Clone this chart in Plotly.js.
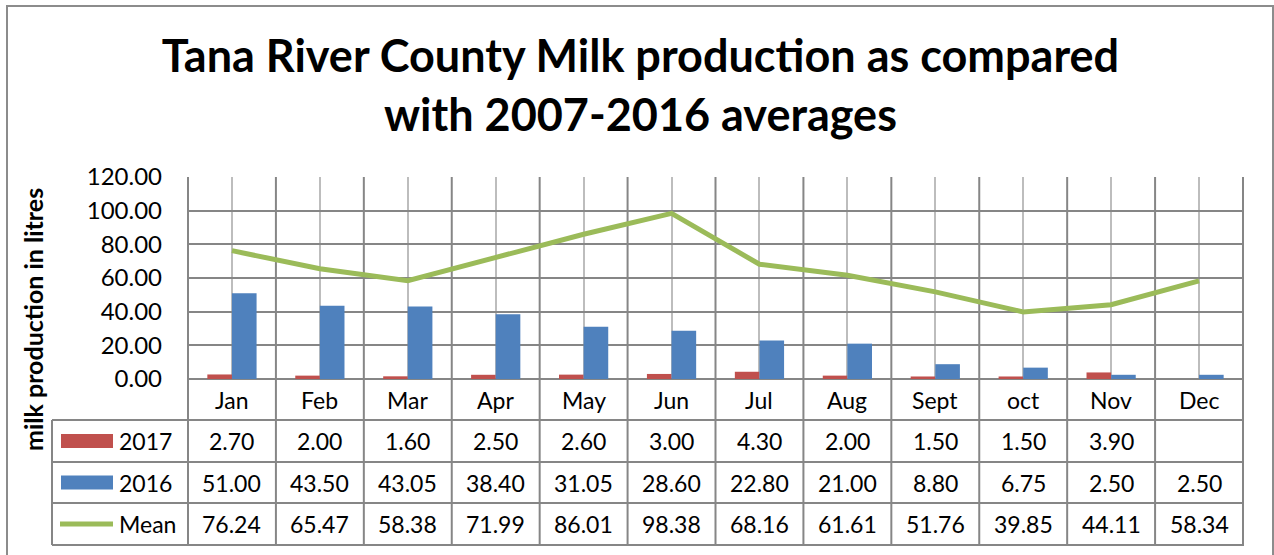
<!DOCTYPE html>
<html>
<head>
<meta charset="utf-8">
<script src="https://cdn.plot.ly/plotly-3.0.1.min.js"></script>
<style>html,body{margin:0;padding:0;background:#fff;}#chart{width:1274px;height:555px;}</style>
</head>
<body>
<div id="chart"></div>
<script>
// ---- data ----
var months = ["Jan","Feb","Mar","Apr","May","Jun","Jul","Aug","Sept","oct","Nov","Dec"];
var seriesNames = ["2017","2016","Mean"];
var values2017 = [2.70, 2.00, 1.60, 2.50, 2.60, 3.00, 4.30, 2.00, 1.50, 1.50, 3.90, null];
var values2016 = [51.00, 43.50, 43.05, 38.40, 31.05, 28.60, 22.80, 21.00, 8.80, 6.75, 2.50, 2.50];
var valuesMean = [76.24, 65.47, 58.38, 71.99, 86.01, 98.38, 68.16, 61.61, 51.76, 39.85, 44.11, 58.34];
var yTicks = [0, 20, 40, 60, 80, 100, 120];

// ---- styling / layout helpers ----
var W = 1274, H = 555;
var plotL = 187, plotR = 1244, plotT = 177, plotB = 379;
var colors = ["#C0504D", "#4F81BD", "#9BBB59"];
var FONT = "Lato, 'Open Sans', sans-serif";
function px2x(px){ return (px - plotL) / (plotR - plotL); }
function px2y(py){ return (plotB - py) / (plotB - plotT); }

var rowLines = [420, 462, 503, 545];   // table horizontal lines (pixels)
var tableLeft = 52;
var gridDark = "#868686", gridLight = "#BDBDBD";
var TXT = 23;

var traces = [
  {type:"bar", name:seriesNames[0], x:months, y:values2017, marker:{color:colors[0]}, hoverinfo:"x+y+name"},
  {type:"bar", name:seriesNames[1], x:months, y:values2016, marker:{color:colors[1]}, hoverinfo:"x+y+name"},
  {type:"scatter", mode:"lines", name:seriesNames[2], x:months, y:valuesMean,
   line:{color:colors[2], width:5}, hoverinfo:"x+y+name"}
];

var shapes = [];
var annotations = [];

// outer chart border
shapes.push({type:"rect", xref:"paper", yref:"paper", x0:px2x(7), x1:px2x(1273), y0:px2y(560), y1:px2y(6),
  line:{color:"#8c8c8c", width:2}, fillcolor:"rgba(0,0,0,0)", layer:"below"});

// category boundary lines through plot and table
for (var i = 0; i <= months.length; i++) {
  shapes.push({type:"line", xref:"x", yref:"paper", x0:i-0.5, x1:i-0.5, y0:px2y(rowLines[rowLines.length-1]), y1:1,
    line:{color:gridDark, width:2}, layer:"below"});
}
// table horizontal lines
rowLines.forEach(function(py){
  shapes.push({type:"line", xref:"paper", yref:"paper", x0:px2x(tableLeft), x1:1, y0:px2y(py), y1:px2y(py),
    line:{color:gridDark, width:2}});
});
// table left edge
shapes.push({type:"line", xref:"paper", yref:"paper", x0:px2x(tableLeft), x1:px2x(tableLeft),
  y0:px2y(rowLines[0]), y1:px2y(rowLines[rowLines.length-1]), line:{color:gridDark, width:2}});

// month labels in header row
months.forEach(function(m){
  annotations.push({xref:"x", yref:"paper", x:m, y:px2y((plotB+rowLines[0])/2), text:m, showarrow:false,
    font:{family:FONT, size:TXT, color:"#000"}, yanchor:"middle"});
});

// table rows
var rowData = [values2017, values2016, valuesMean];
rowData.forEach(function(arr, r){
  var yc = px2y((rowLines[r] + rowLines[r+1]) / 2);
  arr.forEach(function(v, j){
    if (v === null) return;
    annotations.push({xref:"x", yref:"paper", x:months[j], y:yc, text:v.toFixed(2), showarrow:false,
      font:{family:FONT, size:TXT, color:"#000"}, yanchor:"middle"});
  });
  // legend key
  if (r < 2) {
    shapes.push({type:"rect", xref:"paper", yref:"paper", x0:px2x(61), x1:px2x(113),
      y0:yc - 7/(plotB-plotT), y1:yc + 7/(plotB-plotT), fillcolor:colors[r], line:{width:0}});
  } else {
    shapes.push({type:"line", xref:"paper", yref:"paper", x0:px2x(60), x1:px2x(113), y0:yc, y1:yc,
      line:{color:colors[r], width:5}});
  }
  annotations.push({xref:"paper", yref:"paper", x:px2x(117), y:yc, text:seriesNames[r], showarrow:false,
    xanchor:"left", yanchor:"middle", font:{family:FONT, size:TXT, color:"#000"}});
});

// y-axis title
annotations.push({xref:"paper", yref:"paper", x:px2x(33), y:px2y(320), text:"<b>milk production in litres</b>",
  textangle:-90, showarrow:false, xanchor:"center", yanchor:"middle", font:{family:FONT, size:25, color:"#000"}});

var layout = {
  width:W, height:H,
  margin:{l:plotL, r:W-plotR, t:plotT, b:H-plotB, pad:0},
  paper_bgcolor:"#fff", plot_bgcolor:"#fff",
  title:{text:"<b>Tana River County Milk production as compared<br>with 2007-2016 averages</b>",
    font:{family:FONT, size:45, color:"#000"}, xref:"paper", x:0.429, y:1-72/H, yref:"container",
    xanchor:"center", yanchor:"middle"},
  showlegend:false,
  barmode:"group", bargap:0.44, bargroupgap:0,
  xaxis:{type:"category", showticklabels:false, showgrid:true, gridcolor:gridLight, gridwidth:1.5,
    showline:false, zeroline:false, ticks:"", fixedrange:true},
  yaxis:{range:[0,120], tickvals:yTicks, ticktext:yTicks.map(function(v){return v.toFixed(2);}),
    tickfont:{family:FONT, size:24, color:"#000"}, ticklabelstandoff:24, showgrid:true, gridcolor:gridDark, gridwidth:2,
    zeroline:true, zerolinecolor:gridDark, zerolinewidth:2, showline:false, ticks:"", ticklen:0,
    automargin:false, fixedrange:true},
  shapes:shapes, annotations:annotations
};

Plotly.newPlot("chart", traces, layout, {displayModeBar:false, staticPlot:false});
</script>
</body>
</html>
